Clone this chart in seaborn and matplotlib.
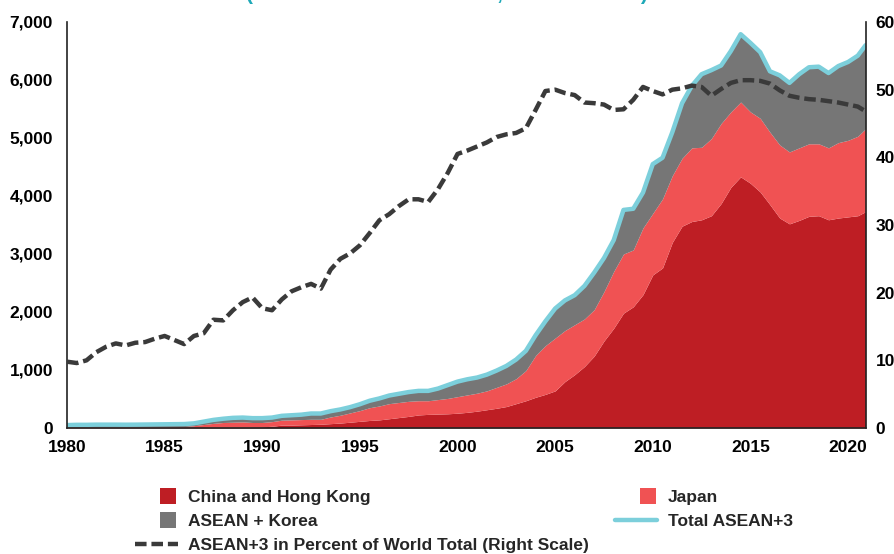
import numpy as np
import matplotlib
matplotlib.use('Agg')
import matplotlib.pyplot as plt
import seaborn as sns
from matplotlib.patches import Patch, Rectangle
from matplotlib.lines import Line2D
from matplotlib.legend_handler import HandlerPatch
from matplotlib.ticker import FuncFormatter, MultipleLocator

# Half-yearly readings, 1980 to end of 2020
years = list(np.arange(1980, 2020.51, 0.5)) + [2020.9]

china_hk = [
    5, 5, 5, 5, 5, 6, 6, 6, 6, 7,
    7, 8, 8, 9, 10, 12, 14, 15, 16, 17,
    20, 30, 50, 50, 55, 60, 65, 75, 85, 100,
    115, 130, 140, 160, 180, 200, 225, 235, 240, 245,
    255, 270, 290, 315, 340, 370, 420, 470, 530, 580,
    640, 800, 920, 1060, 1240, 1500, 1720, 1980, 2090, 2300,
    2640, 2760, 3200, 3480, 3560, 3590, 3660, 3870, 4150, 4330,
    4220, 4070, 3850, 3620, 3520, 3580, 3650, 3660, 3590, 3620,
    3640, 3660, 3730,
]
japan = [
    10, 10, 10, 11, 11, 11, 11, 12, 12, 13,
    13, 14, 17, 31, 50, 68, 81, 85, 89, 78,
    75, 80, 85, 90, 90, 90, 85, 115, 135, 160,
    185, 220, 240, 260, 260, 260, 245, 235, 250, 265,
    285, 300, 310, 325, 360, 390, 430, 520, 720, 840,
    910, 880, 860, 820, 800, 850, 980, 1020, 980, 1150,
    1060, 1190, 1150, 1170, 1270, 1250, 1330, 1380, 1300, 1290,
    1230, 1270, 1250, 1260, 1240, 1250, 1250, 1240, 1240, 1300,
    1320, 1370, 1430,
]
asean_korea = [
    35, 40, 40, 42, 42, 41, 40, 40, 42, 42,
    44, 44, 43, 40, 50, 60, 65, 75, 75, 75,
    75, 70, 75, 80, 85, 100, 100, 100, 100, 100,
    110, 120, 130, 140, 150, 160, 170, 170, 190, 230,
    260, 270, 270, 280, 290, 310, 330, 340, 350, 420,
    510, 520, 510, 570, 640, 580, 540, 760, 710, 610,
    850, 710, 750, 950, 1070, 1260, 1180, 1000, 1050, 1170,
    1190, 1140, 1050, 1200, 1190, 1270, 1320, 1330, 1290, 1320,
    1350, 1390, 1440,
]
world_share = [
    9.8, 9.6, 10.0, 11.2, 12.0, 12.5, 12.2, 12.6, 12.7, 13.2,
    13.6, 13.0, 12.4, 13.6, 14.0, 16.0, 15.9, 17.4, 18.6, 19.3,
    17.7, 17.4, 19.0, 20.2, 20.8, 21.3, 20.6, 23.4, 25.0, 25.8,
    27.0, 28.8, 30.7, 31.6, 32.8, 33.8, 33.8, 33.4, 35.3, 37.7,
    40.5, 41.0, 41.6, 42.2, 43.0, 43.4, 43.6, 44.3, 47.0, 49.8,
    50.0, 49.5, 49.2, 48.1, 48.0, 47.8, 47.0, 47.1, 48.5, 50.4,
    49.8, 49.3, 50.0, 50.2, 50.6, 50.4, 49.1, 50.1, 51.0, 51.4,
    51.4, 51.3, 50.9, 49.9, 49.1, 48.8, 48.6, 48.5, 48.3, 48.1,
    47.8, 47.5, 46.8,
]

total = np.array(china_hk) + np.array(japan) + np.array(asean_korea)

c_china = '#be1e24'
c_japan = '#f05253'
c_asean = '#767676'
c_total = '#7ccfdb'
c_share = '#3a3a3a'

sns.set_theme(style='white')
plt.rcParams['font.family'] = ['Liberation Sans', 'DejaVu Sans']
plt.rcParams['font.weight'] = 'bold'

fig = plt.figure(figsize=(8.94, 5.54), dpi=100)
ax1 = fig.add_axes([67 / 894, 126 / 554, 799 / 894, 406 / 554])

ax1.stackplot(years, china_hk, japan, asean_korea,
              colors=[c_china, c_japan, c_asean], linewidth=0)
sns.lineplot(x=years, y=total, ax=ax1, color=c_total, linewidth=3.2)

ax1.set_xlim(1980, 2020.92)
ax1.set_ylim(0, 7000)
ax1.yaxis.set_major_locator(MultipleLocator(1000))
ax1.yaxis.set_major_formatter(FuncFormatter(lambda v, p: f'{int(v):,}'))
ax1.set_xticks(range(1980, 2021, 5))

ax2 = ax1.twinx()
line = sns.lineplot(x=years, y=world_share, ax=ax2, color=c_share, linewidth=3.2).lines[0]
line.set_dashes([2.6, 1.1])
ax2.set_ylim(0, 60)
ax2.yaxis.set_major_locator(MultipleLocator(10))

for ax in (ax1, ax2):
    ax.grid(False)
    for s in ax.spines.values():
        s.set_visible(False)
    ax.set_xlabel('')
    ax.set_ylabel('')
ax1.spines['left'].set_visible(True)
ax1.spines['bottom'].set_visible(True)
ax2.spines['right'].set_visible(True)
for key, ax in (('left', ax1), ('bottom', ax1), ('right', ax2)):
    ax.spines[key].set_color('#222222')
    ax.spines[key].set_linewidth(1.2)

ax1.tick_params(axis='y', length=0, pad=10, labelsize=12.5, labelcolor='black')
ax1.tick_params(axis='x', length=0, pad=9, labelsize=12.5, labelcolor='black')
ax2.tick_params(axis='y', length=0, pad=7, labelsize=12.5, labelcolor='black')
for lab in ax1.get_xticklabels() + ax1.get_yticklabels() + ax2.get_yticklabels():
    lab.set_fontweight('bold')

# title, mostly above the visible canvas (as in the source image)
fig.text(0.5, 1.0, '(In billions of U.S. dollars, end of month)', ha='center',
         va='baseline', fontsize=15, fontweight='bold', color='#1fa9b8')


class SquareHandler(HandlerPatch):
    def create_artists(self, legend, orig_handle, xdescent, ydescent,
                       width, height, fontsize, trans):
        s = 11.5
        r = Rectangle((-xdescent + width - s - 1, -ydescent + height / 2 - s / 2), s, s,
                      facecolor=orig_handle.get_facecolor(), edgecolor='none',
                      transform=trans)
        return [r]


handles = [
    Patch(color=c_china, label='China and Hong Kong'),
    Patch(color=c_asean, label='ASEAN + Korea'),
    Line2D([], [], color=c_share, linewidth=3.2, dashes=[2.6, 1.1],
           label='ASEAN+3 in Percent of World Total (Right Scale)'),
    Patch(color=c_japan, label='Japan'),
    Line2D([], [], color=c_total, linewidth=3.2, label='Total ASEAN+3'),
]
fig.legend(handles=handles, ncol=2, loc='upper left',
           bbox_to_anchor=(135 / 894, (554 - 490) / 554),
           frameon=False, borderpad=0, borderaxespad=0,
           handlelength=2.45, handletextpad=0.6, labelspacing=0.5,
           columnspacing=1.5, prop={'size': 12.5, 'weight': 'bold'},
           handler_map={Patch: SquareHandler()})

fig.savefig('out.png', dpi=100)
